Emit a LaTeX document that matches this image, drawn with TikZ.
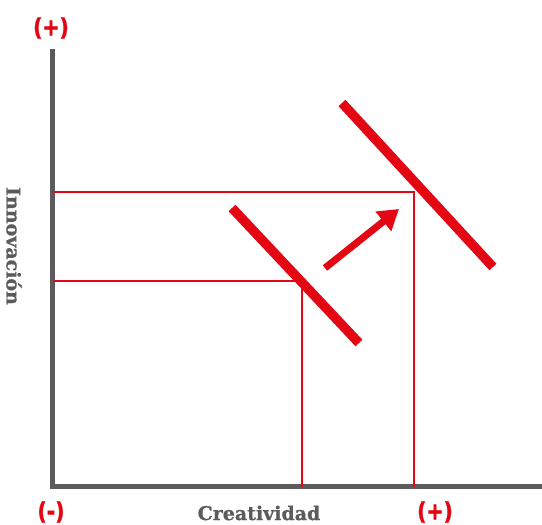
\documentclass[tikz,border=0pt]{standalone}
\usepackage{fontspec}
\setmainfont{DejaVu Serif}[BoldFeatures={FakeBold=0.8}]
\newfontfamily\signfont{DejaVu Sans}[BoldFeatures={FakeBold=1.5}]
\usetikzlibrary{arrows.meta}
\definecolor{cred}{HTML}{E30613}
\definecolor{caxis}{HTML}{5B5B5B}
\tikzset{
  axisline/.style={draw=caxis,line width=5pt,line join=miter},
  guide/.style={draw=cred,line width=2pt},
  curveline/.style={draw=cred,line width=9.5pt},
  shiftarrow/.style={draw=cred,line width=7pt,-{Triangle[length=20pt,width=24pt]}},
  sign/.style={text=cred,font=\signfont\bfseries\fontsize{24}{28}\selectfont,inner sep=0pt,xscale=0.85},
  axislabel/.style={text=caxis,font=\bfseries\fontsize{19}{22}\selectfont,inner sep=0pt}
}
\begin{document}
\begin{tikzpicture}[x=1pt,y=-1pt]
\useasboundingbox (0,0) rectangle (542,525);
% axes
\coordinate (ytop) at (52.5,49);
\coordinate (origin) at (52.5,486.5);
\coordinate (xend) at (542,486.5);
\draw[axisline] (ytop) -- (origin) -- (xend);
% guides
\coordinate (g1) at (52.5,192);
\coordinate (c1) at (414,192);
\coordinate (b1) at (414,486.5);
\coordinate (g2) at (52.5,281);
\coordinate (c2) at (302,281);
\coordinate (b2) at (302,486.5);
\draw[guide] (g1) -- (c1) -- (b1);
\draw[guide] (g2) -- (c2) -- (b2);
% thick lines
\coordinate (l1a) at (232,208);
\coordinate (l1b) at (359,343);
\coordinate (l2a) at (342,103);
\coordinate (l2b) at (493,267);
\draw[curveline] (l1a) -- (l1b);
\draw[curveline] (l2a) -- (l2b);
% arrow
\coordinate (atail) at (325,268);
\coordinate (ahead) at (399,209);
\draw[shiftarrow] (atail) -- (ahead);
% labels
\node[sign] (ptop) at (51,28) {(+)};
\node[sign] (mleft) at (51,512) {(-)};
\node[sign] (pright) at (435,512) {(+)};
\node[axislabel] (xlab) at (259,513) {Creatividad};
\node[axislabel,rotate=-90] (ylab) at (14,246) {Innovación};
\end{tikzpicture}
\end{document}
